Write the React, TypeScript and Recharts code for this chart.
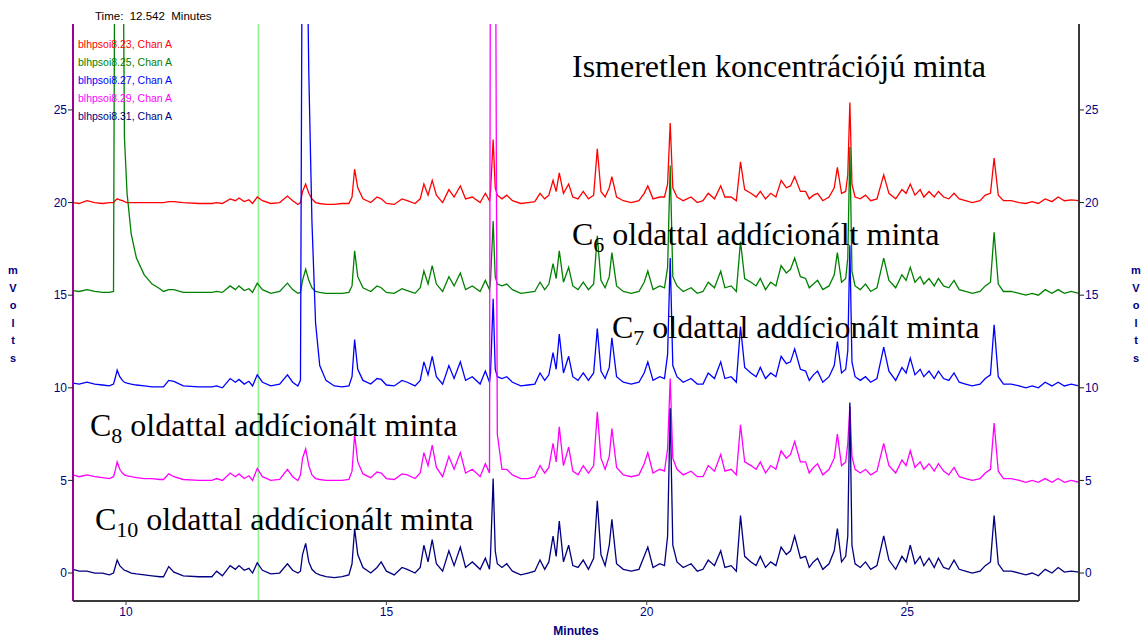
import React from 'react';
import { LineChart, Line, XAxis, YAxis, ReferenceLine } from 'recharts';

// retention times (min), shared by all five runs
const TIMES = [
  8.982, 9.1, 9.25, 9.4, 9.55, 9.68, 9.76, 9.79, 9.83, 9.88, 9.93, 9.97, 10.02, 10.1, 10.2, 10.35, 10.5, 10.65, 10.72, 10.82,
  10.92, 11.1, 11.4, 11.65, 11.74, 11.85, 12.0, 12.1, 12.17, 12.27, 12.36, 12.43, 12.52, 12.62, 12.78, 12.95, 13.1, 13.2, 13.3, 13.35,
  13.39, 13.45, 13.51, 13.57, 13.64, 13.72, 13.84, 14.0, 14.15, 14.28, 14.34, 14.39, 14.45, 14.55, 14.7, 14.82, 14.9, 15.0, 15.15, 15.3,
  15.4, 15.55, 15.65, 15.72, 15.8, 15.88, 15.96, 16.08, 16.2, 16.3, 16.42, 16.52, 16.65, 16.8, 16.9, 16.98, 17.0, 17.05, 17.09, 17.13,
  17.22, 17.31, 17.42, 17.58, 17.72, 17.85, 17.95, 18.04, 18.12, 18.2, 18.26, 18.32, 18.4, 18.5, 18.58, 18.68, 18.78, 18.88, 18.98, 19.05,
  19.12, 19.2, 19.28, 19.33, 19.42, 19.55, 19.7, 19.85, 19.95, 20.02, 20.12, 20.25, 20.34, 20.4, 20.45, 20.5, 20.58, 20.7, 20.85, 20.97,
  21.08, 21.18, 21.3, 21.42, 21.5, 21.62, 21.72, 21.8, 21.88, 22.0, 22.1, 22.18, 22.28, 22.38, 22.48, 22.58, 22.68, 22.76, 22.84, 22.95,
  23.05, 23.12, 23.2, 23.28, 23.38, 23.5, 23.6, 23.66, 23.74, 23.82, 23.86, 23.9, 23.94, 24.0, 24.1, 24.2, 24.3, 24.42, 24.55, 24.65,
  24.78, 24.9, 24.98, 25.06, 25.15, 25.25, 25.32, 25.42, 25.52, 25.6, 25.7, 25.8, 25.9, 26.0, 26.12, 26.25, 26.4, 26.5, 26.6, 26.67,
  26.75, 26.85, 27.0, 27.15, 27.28, 27.4, 27.52, 27.65, 27.78, 27.9, 28.02, 28.15, 28.3,
];

// blhpsoi8.23 - unknown sample (offset 20 mV)
const RED = [
  20.0, 19.95, 20.1, 20.0, 19.95, 20.0, 20.0, 20.1, 20.2, 20.15, 20.1, 20.05, 20.0, 20.0, 20.0, 20.0, 20.0, 20.0, 20.0, 20.05,
  20.05, 20.0, 19.95, 19.95, 20.0, 19.95, 20.2, 20.1, 20.25, 20.05, 20.15, 19.95, 20.3, 20.1, 19.95, 20.0, 20.35, 20.1, 19.9, 20.0,
  20.6, 21.0, 20.5, 20.2, 20.0, 19.95, 19.9, 19.9, 19.95, 19.95, 20.3, 21.8, 20.8, 20.2, 20.0, 20.3, 20.2, 19.95, 19.9, 20.2,
  20.1, 19.95, 20.2, 21.0, 20.4, 21.2, 20.4, 20.0, 20.7, 20.3, 20.9, 20.2, 20.3, 20.0, 20.5, 20.1, 20.6, 23.4, 20.8, 20.4,
  20.2, 20.4, 20.1, 19.95, 20.0, 20.05, 20.5, 20.2, 20.4, 21.2, 20.6, 21.6, 20.5, 21.0, 20.3, 20.2, 20.6, 20.2, 20.4, 22.9,
  20.6, 20.3, 20.8, 21.4, 20.3, 20.1, 20.0, 20.1, 20.5, 20.9, 20.2, 20.3, 20.3, 21.0, 24.3, 20.8, 20.3, 20.1, 20.3, 20.0,
  20.1, 20.5, 20.2, 20.9, 20.3, 20.3, 20.1, 22.2, 20.7, 20.5, 20.3, 20.6, 20.2, 20.5, 20.3, 21.2, 20.8, 20.9, 21.4, 20.6,
  20.6, 20.2, 20.4, 20.5, 20.1, 20.3, 20.8, 21.9, 20.5, 20.6, 21.5, 25.4, 21.0, 20.3, 20.2, 20.4, 20.1, 20.2, 21.5, 20.5,
  20.2, 20.7, 20.5, 21.0, 20.4, 20.7, 20.3, 20.6, 20.3, 20.6, 20.3, 20.2, 20.5, 20.2, 20.1, 20.0, 20.1, 20.4, 20.5, 22.4,
  20.4, 20.1, 20.1, 20.0, 19.95, 20.05, 19.95, 20.2, 20.05, 20.3, 20.1, 20.15, 20.1,
];

// blhpsoi8.25 - spiked with C6 (offset 15 mV)
const GREEN = [
  15.25, 15.2, 15.3, 15.2, 15.15, 15.15, 15.2, 40, 40, 40, 40, 23.5, 20.5, 18.3, 17.0, 16.1, 15.6, 15.35, 15.2, 15.3,
  15.3, 15.15, 15.15, 15.15, 15.2, 15.15, 15.5, 15.3, 15.5, 15.25, 15.35, 15.15, 15.65, 15.3, 15.1, 15.2, 15.65, 15.3, 15.1, 15.15,
  15.8, 16.4, 15.8, 15.4, 15.2, 15.15, 15.1, 15.1, 15.1, 15.15, 15.5, 17.4, 16.0, 15.4, 15.2, 15.5, 15.4, 15.15, 15.1, 15.35,
  15.25, 15.1, 15.4, 16.3, 15.6, 16.6, 15.6, 15.2, 16.0, 15.5, 16.2, 15.3, 15.5, 15.2, 15.8, 15.3, 15.8, 19.0, 16.0, 15.6,
  15.5, 15.6, 15.3, 15.1, 15.15, 15.2, 15.7, 15.3, 15.6, 16.7, 15.9, 17.4, 15.7, 16.5, 15.5, 15.3, 15.7, 15.3, 15.6, 18.2,
  15.8, 15.4, 16.0, 17.3, 15.5, 15.2, 15.1, 15.2, 15.7, 16.3, 15.3, 15.5, 15.4, 16.5, 22.0, 16.0, 15.5, 15.2, 15.4, 15.1,
  15.2, 15.7, 15.4, 16.3, 15.4, 15.5, 15.2, 17.9, 15.9, 15.7, 15.5, 15.9, 15.3, 15.7, 15.5, 16.6, 16.2, 16.4, 17.0, 16.0,
  15.9, 15.4, 15.6, 15.8, 15.3, 15.5, 16.1, 17.3, 15.7, 15.9, 17.0, 23.0, 16.3, 15.5, 15.3, 15.6, 15.2, 15.4, 17.0, 15.8,
  15.4, 16.1, 15.8, 16.5, 15.7, 16.0, 15.6, 15.9, 15.5, 15.9, 15.5, 15.4, 15.8, 15.3, 15.2, 15.1, 15.2, 15.5, 15.7, 18.4,
  15.6, 15.2, 15.2, 15.1, 15.0, 15.1, 15.0, 15.3, 15.1, 15.3, 15.1, 15.2, 15.1,
];

// blhpsoi8.27 - spiked with C7 (offset 10 mV)
const BLUE = [
  10.25, 10.2, 10.3, 10.2, 10.15, 10.1, 10.2, 10.5, 10.95, 10.6, 10.4, 10.3, 10.25, 10.2, 10.15, 10.1, 10.05, 10.05, 10.05, 10.4,
  10.35, 10.1, 10.05, 10.05, 10.1, 10.0, 10.5, 10.3, 10.45, 10.2, 10.35, 10.1, 10.7, 10.3, 10.1, 10.2, 10.7, 10.3, 10.1, 10.4,
  40, 40, 27, 19, 13.5, 11.2, 10.4, 10.1, 10.05, 10.1, 10.6, 12.6, 11.0, 10.4, 10.2, 10.5, 10.45, 10.15, 10.1, 10.4,
  10.3, 10.1, 10.4, 11.4, 10.7, 11.7, 10.6, 10.2, 11.2, 10.5, 11.4, 10.4, 10.6, 10.2, 10.9, 10.3, 10.8, 14.8, 11.0, 10.6,
  10.5, 10.6, 10.3, 10.1, 10.15, 10.2, 10.8, 10.4, 10.7, 11.9, 11.0, 12.9, 10.8, 11.7, 10.6, 10.4, 10.8, 10.4, 10.8, 13.2,
  10.9, 10.5, 11.1, 12.7, 10.6, 10.3, 10.2, 10.3, 10.8, 11.4, 10.4, 10.6, 10.5, 11.8, 17.0, 11.2, 10.6, 10.3, 10.5, 10.2,
  10.2, 10.8, 10.5, 11.4, 10.5, 10.6, 10.3, 13.3, 11.1, 10.8, 10.6, 11.1, 10.5, 10.8, 10.6, 11.7, 11.3, 11.4, 12.1, 11.0,
  10.9, 10.4, 10.7, 10.9, 10.3, 10.6, 11.2, 12.5, 10.8, 11.0, 12.0, 17.7, 11.4, 10.6, 10.4, 10.6, 10.3, 10.5, 12.2, 10.9,
  10.4, 11.1, 10.8, 11.6, 10.7, 11.0, 10.6, 10.9, 10.5, 10.9, 10.5, 10.4, 10.8, 10.3, 10.2, 10.1, 10.2, 10.5, 10.7, 13.4,
  10.6, 10.2, 10.2, 10.1, 10.0, 10.1, 10.0, 10.3, 10.1, 10.3, 10.1, 10.2, 10.1,
];

// blhpsoi8.29 - spiked with C8 (offset 5 mV)
const MAGENTA = [
  5.3, 5.2, 5.3, 5.2, 5.15, 5.1, 5.2, 5.5, 6.0, 5.6, 5.4, 5.3, 5.25, 5.2, 5.15, 5.1, 5.1, 5.05, 5.05, 5.35,
  5.2, 5.05, 5.0, 5.0, 5.1, 5.0, 5.4, 5.2, 5.35, 5.1, 5.25, 5.0, 5.65, 5.2, 5.0, 5.05, 5.6, 5.2, 5.0, 5.3,
  6.2, 6.7, 5.8, 5.3, 5.1, 5.05, 5.0, 5.0, 5.0, 5.05, 5.5, 7.5, 6.0, 5.35, 5.15, 5.45, 5.4, 5.1, 5.05, 5.35,
  5.3, 5.1, 5.4, 6.5, 5.8, 6.9, 5.7, 5.2, 6.3, 5.6, 6.5, 5.4, 5.6, 5.2, 5.9, 5.4, 40, 40, 40, 7.5,
  5.6, 5.6, 5.3, 5.1, 5.1, 5.2, 5.8, 5.4, 5.7, 7.0, 6.0, 7.9, 5.8, 6.8, 5.5, 5.3, 5.8, 5.4, 5.8, 8.7,
  6.2, 5.6, 6.3, 7.8, 5.7, 5.3, 5.2, 5.3, 5.9, 6.5, 5.4, 5.6, 5.5, 6.7, 10.5, 6.2, 5.6, 5.3, 5.5, 5.2,
  5.2, 5.8, 5.5, 6.4, 5.5, 5.6, 5.3, 8.0, 6.0, 5.8, 5.6, 6.0, 5.4, 5.8, 5.6, 6.6, 6.2, 6.4, 7.1, 6.0,
  6.0, 5.4, 5.7, 5.9, 5.3, 5.6, 6.2, 7.5, 5.8, 6.0, 7.0, 9.0, 6.3, 5.6, 5.4, 5.6, 5.3, 5.5, 7.0, 5.8,
  5.4, 6.1, 5.8, 6.6, 5.7, 6.0, 5.6, 5.9, 5.5, 5.9, 5.5, 5.3, 5.7, 5.2, 5.1, 5.0, 5.1, 5.4, 5.6, 8.1,
  5.5, 5.1, 5.1, 5.0, 4.9, 5.0, 4.9, 5.1, 4.9, 5.1, 4.9, 5.0, 4.9,
];

// blhpsoi8.31 - spiked with C10 (no offset)
const NAVY = [
  0.2, 0.1, 0.1, 0.0, 0.0, -0.1, 0.0, 0.3, 0.7, 0.4, 0.25, 0.15, 0.1, 0.0, -0.05, -0.1, -0.15, -0.2, -0.2, 0.35,
  0.05, -0.15, -0.2, -0.2, 0.1, -0.15, 0.4, 0.2, 0.4, 0.15, 0.25, 0.0, 0.55, 0.15, -0.05, 0.0, 0.5, 0.15, 0.0, 0.1,
  1.0, 1.6, 0.6, 0.2, 0.0, -0.1, -0.2, -0.25, -0.2, -0.1, 0.5, 2.4, 1.0, 0.3, 0.0, 0.3, 0.6, 0.1, -0.1, 0.3,
  0.2, 0.0, 0.3, 1.5, 0.6, 1.8, 0.5, 0.1, 1.2, 0.4, 1.4, 0.3, 0.6, 0.2, 0.8, 0.2, 1.0, 5.1, 1.2, 0.5,
  0.3, 0.5, 0.1, -0.1, 0.0, 0.1, 0.7, 0.2, 0.6, 2.0, 0.9, 2.8, 0.6, 1.5, 0.4, 0.3, 0.7, 0.2, 0.8, 3.9,
  1.0, 0.4, 1.5, 2.9, 0.5, 0.2, 0.1, 0.2, 0.9, 1.4, 0.3, 0.5, 0.4, 2.0, 8.9, 1.5, 0.6, 0.3, 0.5, 0.1,
  0.2, 0.7, 0.4, 1.2, 0.3, 0.4, 0.1, 3.1, 0.9, 0.6, 0.4, 0.9, 0.3, 0.6, 0.4, 1.4, 1.0, 1.2, 2.0, 0.8,
  0.9, 0.3, 0.6, 0.8, 0.2, 0.5, 1.2, 2.4, 0.6, 0.9, 2.0, 9.2, 1.5, 0.5, 0.3, 0.6, 0.2, 0.4, 2.0, 0.7,
  0.2, 0.9, 0.6, 1.5, 0.5, 0.9, 0.4, 0.8, 0.3, 0.8, 0.3, 0.2, 0.7, 0.2, 0.1, 0.0, 0.1, 0.4, 0.6, 3.1,
  0.5, 0.1, 0.1, 0.0, -0.1, 0.0, -0.15, 0.2, 0.0, 0.3, 0.05, 0.1, 0.05,
];

const X_TICKS = [10, 15, 20, 25];
const Y_TICKS = [0, 5, 10, 15, 20, 25];
const CURSOR_TIME = 12.542;

const SERIES = [
  { key: 'red', label: 'blhpsoi8.23, Chan A', color: '#ff0000', values: RED },
  { key: 'green', label: 'blhpsoi8.25, Chan A', color: '#008000', values: GREEN },
  { key: 'blue', label: 'blhpsoi8.27, Chan A', color: '#0000ff', values: BLUE },
  { key: 'magenta', label: 'blhpsoi8.29, Chan A', color: '#ff00ff', values: MAGENTA },
  { key: 'navy', label: 'blhpsoi8.31, Chan A', color: '#000080', values: NAVY },
];

const X_DOMAIN: [number, number] = [8.982, 28.3];
const Y_DOMAIN: [number, number] = [-1.51, 29.64];

const AXIS_GREY = '#3a3a3a';
const TICK_BLUE = '#000080';
const SANS = '"Liberation Sans", Arial, sans-serif';
const SERIF = '"Liberation Serif", "Times New Roman", serif';

const rows = TIMES.map((t, i) => {
  const row: Record<string, number> = { t };
  SERIES.forEach((s) => {
    row[s.key] = s.values[i];
  });
  return row;
});

const tickStyle = { fill: TICK_BLUE, fontSize: 12, fontFamily: SANS };

const Sub = ({ n }: { n: string }) => (
  <>
    <tspan fontSize={22} dy={7}>{n}</tspan>
    <tspan dy={-7}> </tspan>
  </>
);

const MVOLTS = ['m', 'V', 'o', 'l', 't', 's'];

export default function App() {
  return (
    <div style={{ position: 'absolute', left: 0, top: 0, width: 1144, height: 639, background: '#fff' }}>
      <LineChart width={1144} height={639} data={rows} margin={{ top: 24, right: 25, bottom: 8, left: 33 }}>
        <XAxis
          dataKey="t"
          type="number"
          domain={X_DOMAIN}
          ticks={X_TICKS}
          allowDataOverflow
          height={30}
          axisLine={{ stroke: AXIS_GREY, strokeWidth: 2 }}
          tickLine={{ stroke: AXIS_GREY }}
          tickSize={4}
          tick={tickStyle}
        />
        <XAxis
          xAxisId="top"
          orientation="top"
          dataKey="t"
          type="number"
          domain={X_DOMAIN}
          allowDataOverflow
          height={0}
          tick={false}
          tickLine={false}
          axisLine={{ stroke: AXIS_GREY, strokeWidth: 2 }}
        />
        <YAxis
          yAxisId="left"
          type="number"
          domain={Y_DOMAIN}
          ticks={Y_TICKS}
          allowDataOverflow
          width={40}
          axisLine={{ stroke: '#990099', strokeWidth: 2 }}
          tickLine={{ stroke: '#222' }}
          tickSize={5}
          tickMargin={1}
          tick={tickStyle}
        />
        <YAxis
          yAxisId="right"
          orientation="right"
          type="number"
          domain={Y_DOMAIN}
          ticks={Y_TICKS}
          allowDataOverflow
          width={40}
          axisLine={{ stroke: AXIS_GREY, strokeWidth: 2 }}
          tickLine={{ stroke: '#222' }}
          tickSize={5}
          tickMargin={1}
          tick={tickStyle}
        />
        <ReferenceLine x={CURSOR_TIME} yAxisId="left" stroke="#8ff08f" strokeWidth={1.5} />
        {SERIES.map((s) => (
          <Line
            key={s.key}
            yAxisId="left"
            type="linear"
            dataKey={s.key}
            name={s.label}
            stroke={s.color}
            strokeWidth={1.3}
            dot={false}
            activeDot={false}
            isAnimationActive={false}
          />
        ))}
      </LineChart>

      <svg
        width={1144}
        height={639}
        style={{ position: 'absolute', left: 0, top: 0, pointerEvents: 'none' }}
      >
        <text x={95} y={20} fontFamily={SANS} fontSize={11.5} fill="#000" style={{ whiteSpace: 'pre' }}>
          {'Time:  12.542  Minutes'}
        </text>

        {SERIES.map((s, i) => (
          <text key={s.key} x={78} y={48 + i * 18} fontFamily={SANS} fontSize={10.5} fill={s.color}>
            {s.label}
          </text>
        ))}

        {MVOLTS.map((c, i) => (
          <g key={c + i}>
            <text x={13} y={274 + i * 17.5} textAnchor="middle" fontFamily={SANS} fontSize={11} fontWeight="bold" fill={TICK_BLUE}>
              {c}
            </text>
            <text x={1136} y={274 + i * 17.5} textAnchor="middle" fontFamily={SANS} fontSize={11} fontWeight="bold" fill={TICK_BLUE}>
              {c}
            </text>
          </g>
        ))}

        <text x={576} y={635} textAnchor="middle" fontFamily={SANS} fontSize={12} fontWeight="bold" fill={TICK_BLUE}>
          Minutes
        </text>

        <g fontFamily={SERIF} fontSize={32} fill="#000">
          <text x={572} y={77}>Ismeretlen koncentrációjú minta</text>
          <text x={572} y={245}>
            C<Sub n="6" />oldattal addícionált minta
          </text>
          <text x={612} y={338}>
            C<Sub n="7" />oldattal addícionált minta
          </text>
          <text x={90} y={436}>
            C<Sub n="8" />oldattal addícionált minta
          </text>
          <text x={95} y={530}>
            C<Sub n="10" />oldattal addícionált minta
          </text>
        </g>
      </svg>
    </div>
  );
}
